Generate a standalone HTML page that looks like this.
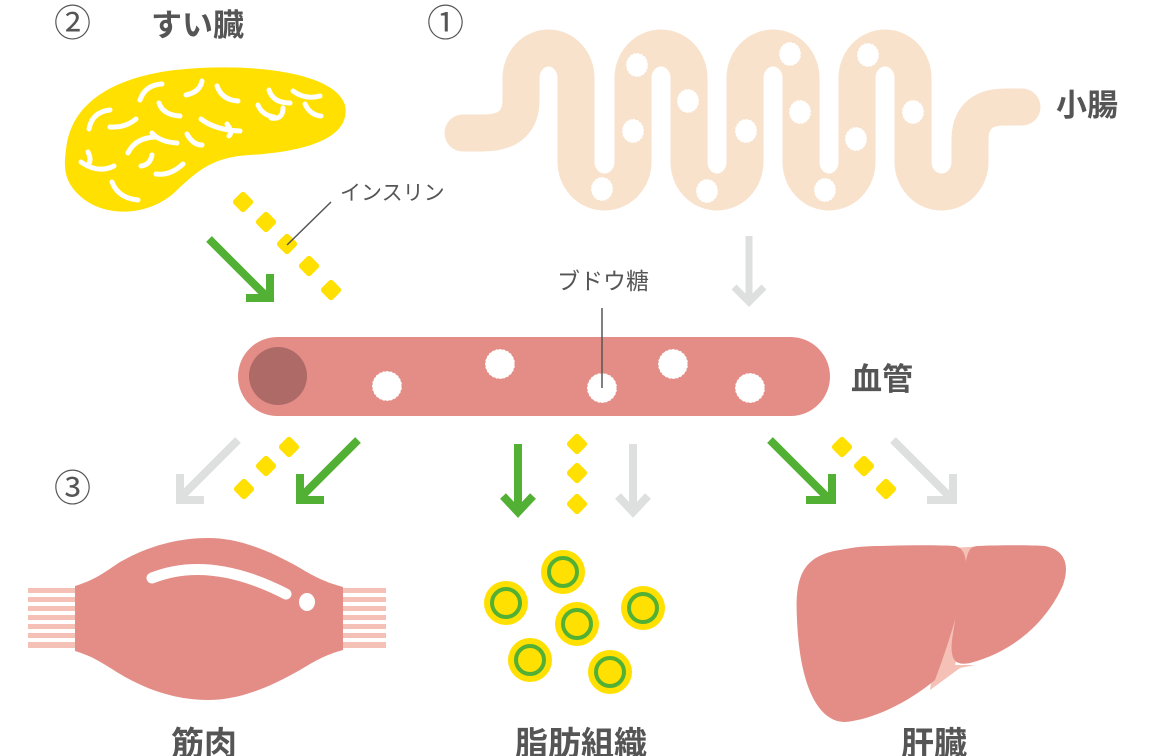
<!DOCTYPE html>
<html><head><meta charset="utf-8"><style>
html,body{margin:0;padding:0;background:#fff;}
svg{display:block}
text{font-family:"Liberation Sans","Noto Sans CJK JP",sans-serif;fill:#555;}
.b{font-weight:bold;font-size:31px;}
</style></head><body>
<svg width="1152" height="756" viewBox="0 0 1152 756" xmlns="http://www.w3.org/2000/svg">
<!-- labels -->
<text x="54" y="36" font-size="37">②</text>
<text x="151" y="36" class="b">すい臓</text>
<text x="427" y="36" font-size="37">①</text>
<text x="1056" y="116" class="b">小腸</text>
<text x="851" y="390" class="b">血管</text>
<text x="54" y="501" font-size="37">③</text>
<text x="171" y="755" class="b" style="font-size:33px">筋肉</text>
<text x="515" y="755" class="b" style="font-size:33px">脂肪組織</text>
<text x="901" y="755" class="b" style="font-size:33px">肝臓</text>

<!-- pancreas -->
<path d="M66,150 C70,105 110,78 175,70 C250,62 335,72 345,105 C352,140 300,152 250,155 C215,157 200,168 175,192 C150,215 110,218 85,200 C65,185 63,170 66,150Z" fill="#ffe000"/>
<g stroke="#fff" stroke-width="5" fill="none" stroke-linecap="round">
<path d="M140,100 Q145,85 162,84"/><path d="M186,95 Q200,92 202,81"/><path d="M217,86 Q222,100 238,101"/>
<path d="M159,103 Q163,115 180,116"/><path d="M269,90 Q273,103 290,103"/><path d="M293,91 Q305,100 320,96"/>
<path d="M305,104 Q310,115 321,116"/><path d="M258,105 Q262,115 274,117"/><path d="M271,118 Q283,120 283,108"/>
<path d="M89,129 Q92,112 110,110"/><path d="M110,127 Q125,128 136,119"/><path d="M201,119 Q215,130 240,131"/>
<path d="M227,124 Q233,132 229,136"/><path d="M152,133 Q160,142 177,143"/><path d="M187,134 Q193,145 202,145"/>
<path d="M128,153 Q135,138 155,137"/><path d="M81,162 Q98,174 114,166"/><path d="M88,152 Q92,160 88,165"/>
<path d="M141,166 Q150,165 152,155"/><path d="M156,174 Q170,176 183,164"/><path d="M112,182 Q118,198 138,200"/>
</g>

<!-- insulin -->
<g fill="#ffe000">
<rect x="235" y="194" width="16" height="16" rx="3" transform="rotate(45 243 202)"/>
<rect x="258" y="214" width="16" height="16" rx="3" transform="rotate(45 266 222)"/>
<rect x="279" y="236" width="16" height="16" rx="3" transform="rotate(45 287 244)"/>
<rect x="301" y="258" width="16" height="16" rx="3" transform="rotate(45 309 266)"/>
<rect x="323" y="282" width="16" height="16" rx="3" transform="rotate(45 331 290)"/>
</g>
<line x1="331" y1="202" x2="287" y2="245" stroke="#555" stroke-width="1.5"/>
<text x="340" y="200" font-size="21">インスリン</text>
<g stroke="#52b035" stroke-width="8" fill="none">
<line x1="209" y1="239" x2="268" y2="298"/>
<polyline points="246,298 270,298 270,274"/>
</g>

<!-- small intestine -->
<path d="M463,133 L483,133 Q521,133 521,100 L521,78 A27.5,30 0 0 1 576,78 L576,162 A28.5,30 0 0 0 633,162 L633,78 A28,30 0 0 1 689,78 L689,162 A28,30 0 0 0 745,162 L745,78 A28,30 0 0 1 801,78 L801,162 A28,30 0 0 0 857,162 L857,78 A28,30 0 0 1 913,78 L913,162 A28.5,30 0 0 0 970,162 L970,140 Q970,107 1005,107 L1022,107" stroke="#f9e2cc" stroke-width="37" fill="none" stroke-linecap="round" stroke-linejoin="round"/>
<g fill="#fff" stroke="#f9e2cc" stroke-width="1" stroke-dasharray="2 2">
<ellipse cx="637" cy="65" rx="11" ry="12"/><ellipse cx="688" cy="101" rx="11" ry="12"/>
<ellipse cx="633" cy="131" rx="11" ry="12"/><ellipse cx="602" cy="189" rx="11" ry="12"/>
<ellipse cx="707" cy="191" rx="11" ry="12"/><ellipse cx="746" cy="131" rx="11" ry="12"/>
<ellipse cx="790" cy="54" rx="11" ry="12"/><ellipse cx="800" cy="112" rx="11" ry="12"/>
<ellipse cx="825" cy="190" rx="11" ry="12"/><ellipse cx="868" cy="55" rx="11" ry="12"/>
<ellipse cx="856" cy="139" rx="11" ry="12"/><ellipse cx="913" cy="112" rx="11" ry="12"/>
</g>
<g stroke="#dde0df" stroke-width="7" fill="none">
<line x1="749" y1="236" x2="749" y2="300"/><polyline points="734,287 749,302 764,287"/>
</g>

<!-- blood vessel -->
<text x="557" y="289" font-size="23">ブドウ糖</text>
<rect x="238" y="337" width="592" height="79" rx="39.5" fill="#e48d86"/>
<ellipse cx="278" cy="376" rx="29" ry="29" fill="#ad6a66"/>
<g fill="#fff" stroke="#e48d86" stroke-width="1" stroke-dasharray="2 2">
<circle cx="387" cy="386" r="15"/><circle cx="500" cy="364" r="15"/><circle cx="602" cy="388" r="15"/>
<circle cx="673" cy="364" r="15"/><circle cx="750" cy="388" r="15"/>
</g>
<line x1="602" y1="308" x2="602" y2="388" stroke="#555" stroke-width="1.5"/>

<!-- bottom arrows -->
<g stroke="#dde0df" stroke-width="8" fill="none">
<line x1="238" y1="440" x2="180" y2="498"/><polyline points="180,474 180,500 204,500"/>
<line x1="633" y1="444" x2="633" y2="510"/><polyline points="618,496 633,512 648,496"/>
<line x1="893" y1="440" x2="951" y2="498"/><polyline points="927,500 953,500 953,474"/>
</g>
<g stroke="#52b035" stroke-width="8" fill="none">
<line x1="358" y1="440" x2="300" y2="498"/><polyline points="300,474 300,500 324,500"/>
<line x1="518" y1="444" x2="518" y2="510"/><polyline points="503,496 518,512 533,496"/>
<line x1="770" y1="440" x2="828" y2="498"/><polyline points="806,500 832,500 832,474"/>
</g>
<g fill="#ffe000">
<rect x="281" y="439" width="16" height="16" rx="3" transform="rotate(45 289 447)"/>
<rect x="258" y="458" width="16" height="16" rx="3" transform="rotate(45 266 466)"/>
<rect x="236" y="481" width="16" height="16" rx="3" transform="rotate(45 244 489)"/>
<rect x="569" y="436" width="16" height="16" rx="3" transform="rotate(45 577 444)"/>
<rect x="569" y="465" width="16" height="16" rx="3" transform="rotate(45 577 473)"/>
<rect x="569" y="496" width="16" height="16" rx="3" transform="rotate(45 577 504)"/>
<rect x="834" y="439" width="16" height="16" rx="3" transform="rotate(45 842 447)"/>
<rect x="856" y="458" width="16" height="16" rx="3" transform="rotate(45 864 466)"/>
<rect x="878" y="481" width="16" height="16" rx="3" transform="rotate(45 886 489)"/>
</g>

<!-- muscle -->
<g fill="#f5c0b5">
<rect x="28" y="588" width="50" height="5"/><rect x="28" y="597" width="50" height="5"/><rect x="28" y="606" width="50" height="5"/>
<rect x="28" y="615" width="50" height="5"/><rect x="28" y="624" width="50" height="5"/><rect x="28" y="633" width="50" height="5"/>
<rect x="28" y="642" width="50" height="6"/>
<rect x="338" y="588" width="48" height="5"/><rect x="338" y="597" width="48" height="5"/><rect x="338" y="606" width="48" height="5"/>
<rect x="338" y="615" width="48" height="5"/><rect x="338" y="624" width="48" height="5"/><rect x="338" y="633" width="48" height="5"/>
<rect x="338" y="642" width="48" height="6"/>
</g>
<path d="M75,586 C95,580 105,572 120,562 C150,545 180,538 208,538 C236,538 265,548 300,568 C315,577 325,582 343,587 L343,650 C325,655 315,661 300,670 C265,690 236,700 208,700 C180,700 150,692 120,674 C105,665 95,657 75,651Z" fill="#e48d86"/>
<path d="M152,578 Q210,555 286,594" stroke="#fff" stroke-width="11" fill="none" stroke-linecap="round"/>
<ellipse cx="307" cy="602" rx="8" ry="9" fill="#fff"/>

<!-- fat cells -->
<g fill="#ffe000" stroke="#52b035" stroke-width="4">
<g><circle cx="563" cy="572" r="22" stroke="none"/><circle cx="563" cy="572" r="14"/></g>
<g><circle cx="506" cy="603" r="22" stroke="none"/><circle cx="506" cy="603" r="14"/></g>
<g><circle cx="577" cy="624" r="22" stroke="none"/><circle cx="577" cy="624" r="14"/></g>
<g><circle cx="643" cy="608" r="22" stroke="none"/><circle cx="643" cy="608" r="14"/></g>
<g><circle cx="530" cy="660" r="22" stroke="none"/><circle cx="530" cy="660" r="14"/></g>
<g><circle cx="610" cy="672" r="22" stroke="none"/><circle cx="610" cy="672" r="14"/></g>
</g>

<!-- liver -->
<path d="M952,548 L985,546 C975,570 962,640 955,665 L975,665 L960,668 L930,690 Z" fill="#f5c0b5"/>
<path d="M880,546 C910,545 940,545 955,546 C965,548 968,560 965,580 C960,605 950,640 935,680 C905,705 870,720 845,722 C820,722 800,690 797,620 C795,580 800,556 840,550 C855,547 865,546 880,546Z" fill="#e48d86"/>
<path d="M977,546 C1000,545 1030,545 1045,546 C1065,550 1070,565 1063,585 C1050,615 1020,650 970,663 C955,666 950,660 952,640 C955,620 960,590 965,565 C968,550 970,547 977,546Z" fill="#e48d86"/>
</svg>
</body></html>
